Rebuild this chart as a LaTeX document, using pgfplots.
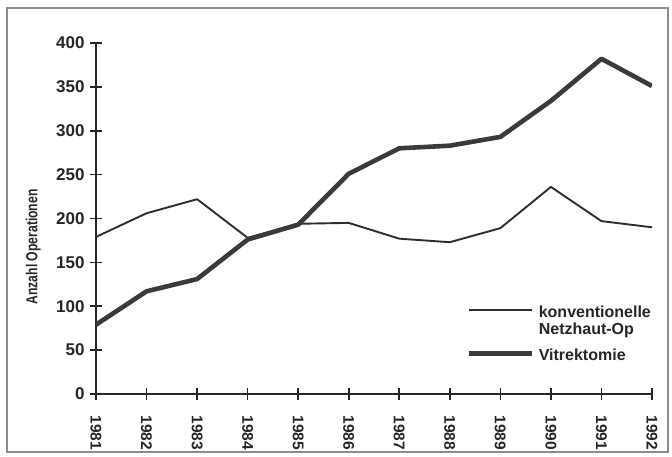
\documentclass[border=0pt]{standalone}
\usepackage{fontspec}
\setmainfont{Liberation Sans}
\usepackage{pgfplots}
\pgfplotsset{compat=1.18}
\definecolor{linec}{HTML}{2E2E2E}
\definecolor{thickc}{HTML}{3A3A3A}
\begin{document}
\begin{tikzpicture}[x=1pt,y=1pt]
\useasboundingbox (-96,-62) rectangle (576,394);
\draw[black!45, line width=1.2pt] (-89,-58) rectangle (572,386);
\begin{axis}[
  at={(0,0)}, anchor=south west,
  scale only axis, width=556pt, height=351pt,
  xmin=1981, xmax=1992, ymin=0, ymax=400,
  axis x line*=bottom, axis y line*=left,
  axis line style={line width=1.6pt, draw=black!85, -},
  xtick={1981,...,1992}, ytick={0,50,...,400},
  tick align=center, major tick length=12pt,
  tick style={line width=1.6pt, draw=black!85},
  /pgf/number format/assume math mode=true,
  /pgf/number format/1000 sep={},
  xticklabel style={rotate=-90, anchor=west, xshift=12pt, font=\fontsize{15.5}{15.5}\selectfont\bfseries, text=black!85},
  yticklabel style={font=\fontsize{17}{17}\selectfont\bfseries, text=black!85, xshift=-2pt},
  ylabel={\scalebox{0.76}[1]{Anzahl Operationen}},
  ylabel style={font=\fontsize{16}{16}\selectfont\bfseries, text=black!85, at={(axis description cs:-0.113,0.419)}, anchor=center},
  legend image code/.code={\draw[#1] (0pt,7pt) -- (63pt,7pt); \path (68pt,0pt);},
  legend style={draw=none, fill=none, at={(rel axis cs:0.6655,0.256)}, anchor=north west,
    inner sep=0pt, font=\fontsize{16}{20}\selectfont\bfseries, text=black!85,
    cells={anchor=base west}, row sep=0pt,
    nodes={inner sep=0pt},
    /tikz/every even column/.append style={column sep=0pt}},
]
\addplot[line width=1.9pt, color=linec, line join=round] coordinates {
(1981,179) (1982,206) (1983,222) (1984,178) (1985,194) (1986,195)
(1987,177) (1988,173) (1989,189) (1990,236) (1991,197) (1992,190)};
\addlegendentry{\rule[-4pt]{0pt}{17pt}konventionelle}
\addlegendimage{empty legend}
\addlegendentry{\rule[-10pt]{0pt}{26pt}Netzhaut-Op}
\addplot[line width=4.6pt, color=thickc, line join=round] coordinates {
(1981,79) (1982,117) (1983,131) (1984,176) (1985,193) (1986,251)
(1987,280) (1988,283) (1989,293) (1990,334) (1991,382) (1992,351)};
\addlegendentry{\rule{0pt}{24pt}Vitrektomie}
\end{axis}
\end{tikzpicture}
\end{document}
